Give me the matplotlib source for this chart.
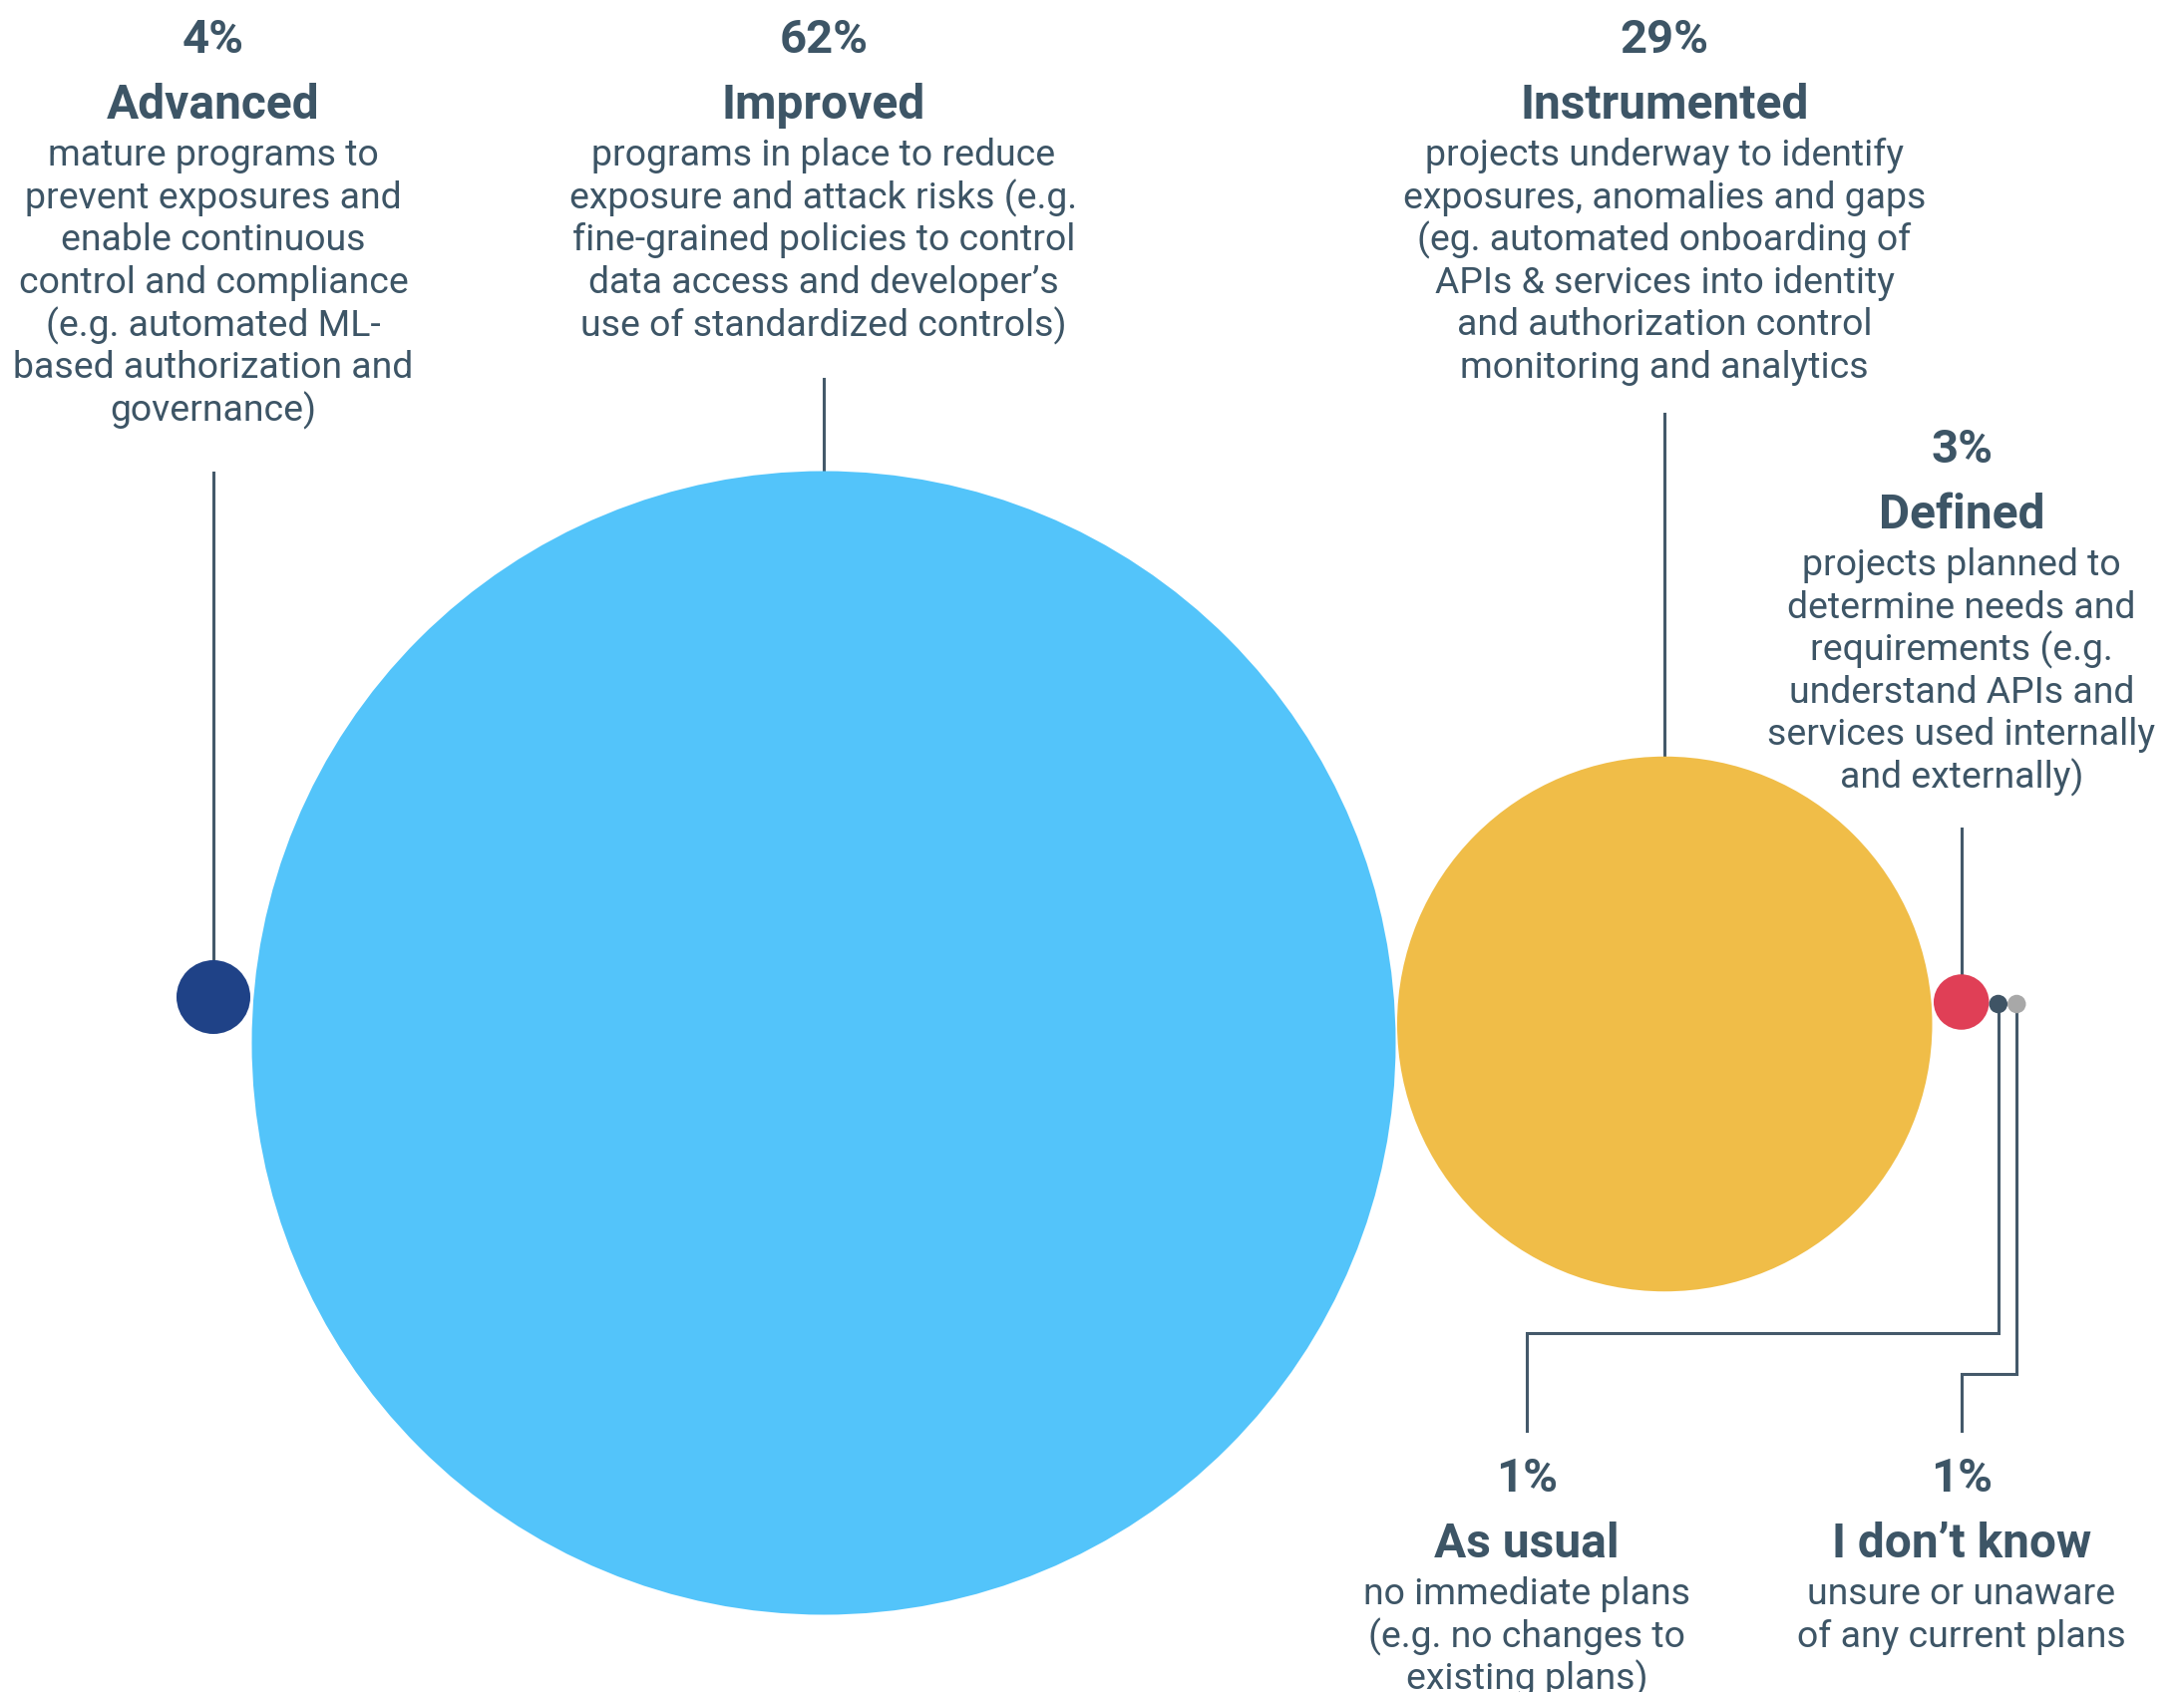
import matplotlib
matplotlib.use("Agg")
import matplotlib.pyplot as plt
from matplotlib.patches import Circle

plt.rcParams["font.family"] = ["Roboto", "DejaVu Sans"]

# ===== data =====
stages = ["Advanced", "Improved", "Instrumented", "Defined", "As usual", "I don’t know"]
shares = [4, 62, 29, 3, 1, 1]
descriptions = [
    ["mature programs to", "prevent exposures and", "enable continuous",
     "control and compliance", "(e.g. automated ML-", "based authorization and",
     "governance)"],
    ["programs in place to reduce", "exposure and attack risks (e.g.",
     "fine-grained policies to control", "data access and developer’s",
     "use of standardized controls)"],
    ["projects underway to identify", "exposures, anomalies and gaps",
     "(eg. automated onboarding of", "APIs & services into identity",
     "and authorization control", "monitoring and analytics"],
    ["projects planned to", "determine needs and", "requirements (e.g.",
     "understand APIs and", "services used internally", "and externally)"],
    ["no immediate plans", "(e.g. no changes to", "existing plans)"],
    ["unsure or unaware", "of any current plans"],
]
colors = ["#1f4287", "#53c4fa", "#f0bd48", "#e03f56", "#3f5465", "#a8a8a8"]

TEXT = "#3d5566"
LINE = "#44596a"

# ===== layout (pixel coordinates) =====
W, H = 2190, 1697
PX_PER_PCT = 9.25            # bubble radius per percentage point
gaps = [1.5, 1.5, 1.5, 0, 0]  # space between neighbouring bubbles
LEFT = 177
center_y = [1000, 1046, 1027, 1005, 1007, 1007]

# label block: (x of text centre, y of percent line)
label_pos = [(214, 40), (826, 40), (1669, 40), (1967, 451), (1531, 1483), (1967, 1483)]
LINE_STEP = 42.6

fig = plt.figure(figsize=(W / 100, H / 100), dpi=100)
ax = fig.add_axes([0, 0, 1, 1])
ax.set_xlim(0, W)
ax.set_ylim(H, 0)
ax.axis("off")

# bubbles laid side by side, radius proportional to share
radii = [s * PX_PER_PCT for s in shares]
centers_x = [LEFT + radii[0]]
for i in range(1, len(radii)):
    centers_x.append(centers_x[-1] + radii[i - 1] + gaps[i - 1] + radii[i])

# leader lines go under the bubbles
lw = 2.2
ax.plot([centers_x[0]] * 2, [474, center_y[0]], color=LINE, lw=lw, zorder=1)
ax.plot([centers_x[1]] * 2, [380, center_y[1]], color=LINE, lw=lw, zorder=1)
ax.plot([centers_x[2]] * 2, [415, center_y[2]], color=LINE, lw=lw, zorder=1)
ax.plot([centers_x[3]] * 2, [831, center_y[3]], color=LINE, lw=lw, zorder=1)
# elbow connectors to the labels below
ax.plot([centers_x[4], centers_x[4], label_pos[4][0], label_pos[4][0]],
        [center_y[4], 1337, 1337, 1435], color=LINE, lw=lw, zorder=1,
        solid_joinstyle="miter")
ax.plot([centers_x[5], centers_x[5], label_pos[5][0], label_pos[5][0]],
        [center_y[5], 1378, 1378, 1435], color=LINE, lw=lw, zorder=1,
        solid_joinstyle="miter")

for cx, cy, r, c in zip(centers_x, center_y, radii, colors):
    ax.add_patch(Circle((cx, cy), r, facecolor=c, edgecolor="none", zorder=2))

# labels: percent, stage name, description lines
for (lx, ly), name, share, desc in zip(label_pos, stages, shares, descriptions):
    ax.text(lx, ly, f"{share}%", ha="center", va="center", fontsize=34,
            fontweight="bold", color=TEXT)
    ax.text(lx, ly + 66, name, ha="center", va="center", fontsize=34.5,
            fontweight="bold", color=TEXT)
    for i, line in enumerate(desc):
        ax.text(lx, ly + 116 + i * LINE_STEP, line, ha="center", va="center",
                fontsize=26.9, color=TEXT)

fig.savefig("out.png", dpi=100, facecolor="white")
